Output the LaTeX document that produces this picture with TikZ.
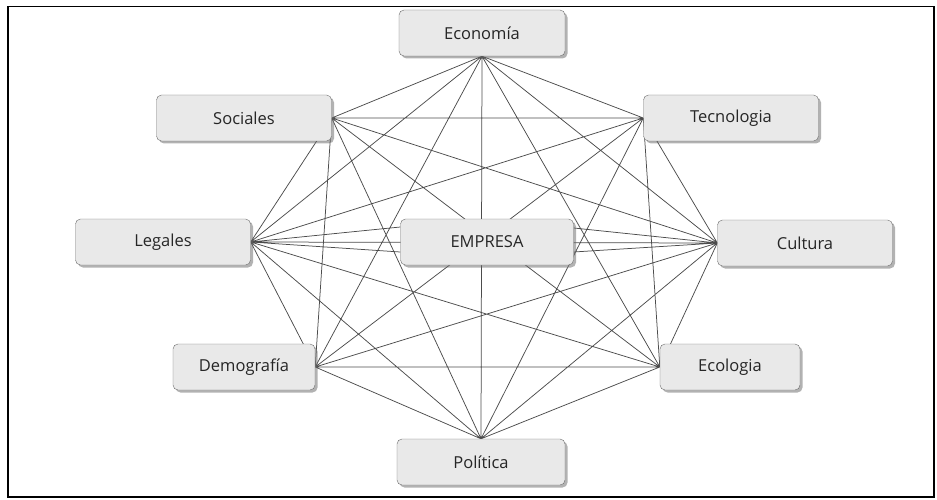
\documentclass[tikz,border=0pt]{standalone}
\usepackage{fontspec}
\newfontfamily\cajafont{Open Sans}
\usetikzlibrary{shadows,backgrounds}
\tikzset{
	caja/.style={draw=gray!85!black,fill=gray!17,rounded corners=5pt,
		minimum height=46pt,minimum width=175pt,text=black!85,
		font=\cajafont\fontsize{16.5}{19}\selectfont,
		drop shadow={shadow xshift=2.5pt,shadow yshift=-2.5pt,fill=black!60}},
	enlace/.style={draw=black!70,line width=0.75pt}
}
\begin{document}
\begin{tikzpicture}[x=1pt,y=-1pt]
		\useasboundingbox(0,0)rectangle(937,500);
		\draw[line width=1.5pt](8,6.5)rectangle(934,497);
		\node[caja,minimum width=166pt](eco)at(482,33){Economía};
		\node[caja](soc)at(244,118){Sociales};
		\node[caja](tec)at(731,118){Tecnologia};
		\node[caja](leg)at(163,242){Legales};
		\node[caja,minimum width=173pt](emp)at(487,242){EMPRESA};
		\node[caja](cul)at(805,243){Cultura};
		\node[caja,minimum width=142pt](dem)at(244,367){Demografía};
		\node[caja,minimum width=140pt](ecl)at(730,367){Ecologia};
		\node[caja,minimum width=168pt](pol)at(481,462){Política};
		\coordinate(E)at(eco.south);
		\coordinate(S)at(soc.east);
		\coordinate(T)at(tec.west);
		\coordinate(L)at(leg.east);
		\coordinate(C)at(cul.west);
		\coordinate(D)at(dem.east);
		\coordinate(G)at(ecl.west);
		\coordinate(P)at(pol.north);
		\begin{scope}[on background layer]
		\draw[enlace](E)--(S) (E)--(T) (E)--(L) (E)--(C) (E)--(D) (E)--(G) (E)--(P)
			(S)--(T) (S)--(L) (S)--(C) (S)--(D) (S)--(G) (S)--(P)
			(T)--(L) (T)--(C) (T)--(D) (T)--(G) (T)--(P)
			(L)--(C) (L)--(D) (L)--(G) (L)--(P)
			(C)--(D) (C)--(G) (C)--(P)
			(D)--(G) (D)--(P)
			(G)--(P)
			(L)--([yshift=15pt]emp.west) (L)--([yshift=-10pt]emp.west)
			(C)--([yshift=14pt]emp.east) (C)--([yshift=-10pt]emp.east);
		\end{scope}
\end{tikzpicture}
\end{document}
